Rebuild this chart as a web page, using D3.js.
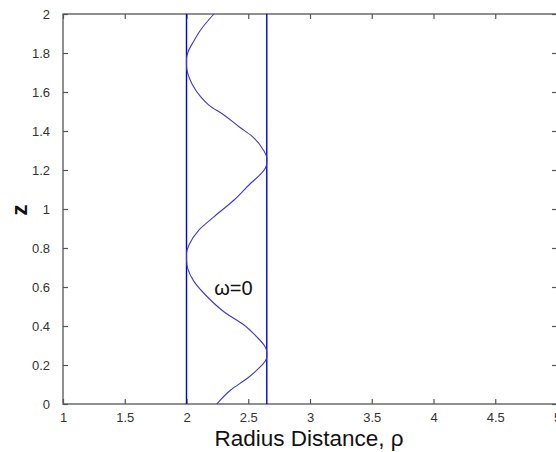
<!DOCTYPE html>
<html>
<head>
<meta charset="utf-8">
<script src="https://cdn.jsdelivr.net/npm/d3@7"></script>
<style>
  body { margin: 0; background: #fff; }
  text { font-family: Arial, "Liberation Sans", sans-serif; }
</style>
</head>
<body>
<div id="chart"></div>
<script>
// tick values
const xTicks = [1, 1.5, 2, 2.5, 3, 3.5, 4, 4.5, 5];
const yTicks = [0, 0.2, 0.4, 0.6, 0.8, 1, 1.2, 1.4, 1.6, 1.8, 2];

// walls of the channel
const wallRho = [2, 2.65];

// path (rho, z)
const pathRho = [2.245, 2.358, 2.493, 2.590, 2.638, 2.65, 2.65, 2.630, 2.568, 2.466, 2.303, 2.168, 2.059, 2.012, 2.0, 2.0,
                 2.020, 2.100, 2.222, 2.385, 2.520, 2.602, 2.640, 2.65, 2.65, 2.625, 2.534, 2.425, 2.303, 2.181,
                 2.114, 2.046, 2.010, 2.0, 2.0, 2.015, 2.060, 2.114, 2.222];
const pathZ   = [0.0, 0.072, 0.132, 0.186, 0.220, 0.242, 0.270, 0.300, 0.345, 0.405, 0.473, 0.550, 0.630, 0.690, 0.737, 0.775,
                 0.815, 0.892, 0.960, 1.046, 1.132, 1.180, 1.212, 1.236, 1.264, 1.300, 1.371, 1.422, 1.482, 1.533,
                 1.576, 1.640, 1.695, 1.732, 1.770, 1.810, 1.862, 1.918, 2.0];

const label = {text: "ω=0", rho: 2.38, z: 0.56};

let width = 556, height = 452;
let margin = {top: 14, right: -1, bottom: 48, left: 63};

let svg = d3.select("#chart").append("svg")
    .attr("width", width)
    .attr("height", height);

let x = d3.scaleLinear().domain([1, 5]).range([margin.left, width - margin.right]);
let y = d3.scaleLinear().domain([0, 2]).range([height - margin.bottom, margin.top]);

let axisColor = "#555";

// box
svg.append("rect")
    .attr("x", x(1))
    .attr("y", y(2))
    .attr("width", x(5) - x(1))
    .attr("height", y(0) - y(2))
    .attr("fill", "#fff")
    .attr("stroke", axisColor)
    .attr("stroke-width", 1.3);

// bottom axis, ticks inward
svg.append("g")
    .attr("transform", "translate(0," + y(0) + ")")
    .call(d3.axisBottom(x).tickValues(xTicks).tickSizeInner(-5).tickSizeOuter(0).tickPadding(9)
        .tickFormat(d3.format("")));
// top ticks
svg.append("g")
    .attr("transform", "translate(0," + y(2) + ")")
    .call(d3.axisTop(x).tickValues(xTicks).tickSizeInner(-5).tickSizeOuter(0).tickFormat(""));

// left axis
svg.append("g")
    .attr("transform", "translate(" + x(1) + ",0)")
    .call(d3.axisLeft(y).tickValues(yTicks).tickSizeInner(-5).tickSizeOuter(0).tickPadding(13)
        .tickFormat(d3.format("")));
// right ticks
svg.append("g")
    .attr("transform", "translate(" + x(5) + ",0)")
    .call(d3.axisRight(y).tickValues(yTicks).tickSizeInner(-5).tickSizeOuter(0).tickFormat(""));

svg.selectAll(".domain").remove();
svg.selectAll(".tick line").attr("stroke", axisColor).attr("stroke-width", 1.2);
svg.selectAll(".tick text")
    .attr("fill", "#333")
    .style("font-size", "13px");

// walls
svg.selectAll(".wall")
    .data(wallRho)
    .enter()
    .append("line")
    .attr("class", "wall")
    .attr("x1", d => x(d))
    .attr("x2", d => x(d))
    .attr("y1", y(0))
    .attr("y2", y(2))
    .attr("stroke", "#0000e0")
    .attr("stroke-width", 1.4);

// path
let pts = pathRho.map((r, i) => [r, pathZ[i]]);
let line = d3.line()
    .x(d => x(d[0]))
    .y(d => y(d[1]))
    .curve(d3.curveMonotoneY);

svg.append("path")
    .datum(pts)
    .attr("d", line)
    .attr("fill", "none")
    .attr("stroke", "#3a3ac8")
    .attr("stroke-width", 1.1);

// annotation
svg.append("text")
    .attr("x", x(label.rho))
    .attr("y", y(label.z))
    .attr("text-anchor", "middle")
    .style("font-size", "20px")
    .attr("fill", "#111")
    .text(label.text);

// axis labels
svg.append("text")
    .attr("x", 309)
    .attr("y", 446)
    .attr("text-anchor", "middle")
    .style("font-size", "22.5px")
    .attr("fill", "#111")
    .text("Radius Distance, ρ");

svg.append("text")
    .attr("transform", "translate(27,210) rotate(-90)")
    .attr("text-anchor", "middle")
    .style("font-size", "22px")
    .style("font-weight", "bold")
    .attr("fill", "#111")
    .text("z");
</script>
</body>
</html>
